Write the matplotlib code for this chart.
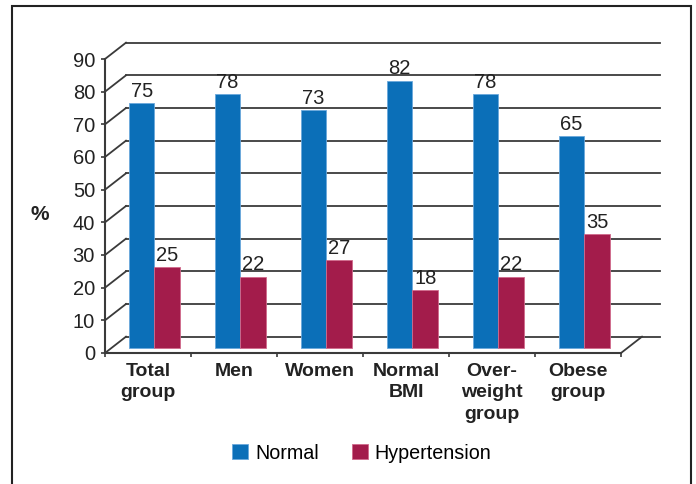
import matplotlib.pyplot as plt
from matplotlib.patches import Rectangle

plt.rcParams['font.family'] = ['Liberation Sans', 'DejaVu Sans']

groups = ['Total\ngroup', 'Men', 'Women', 'Normal\nBMI', 'Over-\nweight\ngroup', 'Obese\ngroup']
normal = [75, 78, 73, 82, 78, 65]
hypertension = [25, 22, 27, 18, 22, 35]
yticks = list(range(0, 100, 10))

blue = '#0b6fb8'
red = '#a31c4b'
grid = '#3a3a3a'

# depth of the back wall and of the bar plane, in data units
back_dx, back_dy = 0.244, 5.0
bar_dx, bar_dy = 0.075, 1.4
bw = 0.297

fig = plt.figure(figsize=(6.96, 4.84), dpi=100)
ax = fig.add_axes([105 / 696, 131 / 484, 516 / 696, 294 / 484])
ax.set_xlim(0, 6)
ax.set_ylim(0, 90)
for s in ax.spines.values():
    s.set_visible(False)

# back wall gridlines and side wall diagonals
for v in yticks:
    ax.plot([back_dx, 6.453], [v + back_dy, v + back_dy], color=grid, lw=1.3,
            clip_on=False, zorder=1)
    ax.plot([0, back_dx], [v, v + back_dy], color=grid, lw=1.3, clip_on=False, zorder=1)
ax.plot([6, 6 + back_dx], [0, back_dy], color=grid, lw=1.3, clip_on=False, zorder=1)

# front axes
ax.plot([0, 0], [0, 90], color=grid, lw=1.5, clip_on=False, zorder=4)
ax.plot([0, 6], [0, 0], color=grid, lw=1.5, clip_on=False, zorder=4)

x = range(len(groups))
xb = [i + 0.5 - bw + bar_dx for i in x]
xr = [i + 0.5 + bar_dx for i in x]
ax.bar(xb, normal, width=bw, bottom=bar_dy, align='edge', color=blue,
       edgecolor='#6aa8dc', lw=0.6, zorder=3, label='Normal')
ax.bar(xr, hypertension, width=bw, bottom=bar_dy, align='edge', color=red,
       edgecolor='#d06a8c', lw=0.6, zorder=3, label='Hypertension')

for i in x:
    ax.annotate(str(normal[i]), (xb[i] + bw / 2, normal[i] + bar_dy), xytext=(0, 1.5),
                textcoords='offset points', ha='center', va='bottom', fontsize=14.5,
                color='#222222', zorder=5)
    ax.annotate(str(hypertension[i]), (xr[i] + bw / 2, hypertension[i] + bar_dy),
                xytext=(0, 1.5), textcoords='offset points', ha='center', va='bottom',
                fontsize=14.5, color='#222222', zorder=5)
    ax.annotate(groups[i], (i + 0.5, 0), xytext=(0, -7), textcoords='offset points',
                ha='center', va='top', fontsize=14, fontweight='bold',
                linespacing=1.35, color='#222222')

ax.set_yticks(yticks)
ax.set_yticklabels([str(v) for v in yticks], fontsize=14.5, color='#222222')
ax.set_xticks(range(7))
ax.set_xticklabels([])
ax.tick_params(axis='both', length=3.2, width=1.2, color=grid, pad=4)

fig.text(40 / 696, 1 - 215 / 484, '%', fontsize=15, fontweight='bold',
         ha='center', va='center', color='#222222')

fig.legend(loc='center', bbox_to_anchor=(0.52, 0.064), ncol=2, frameon=False,
           fontsize=14.2, handlelength=0.8, handleheight=0.8, handletextpad=0.35,
           columnspacing=1.7)

fig.patches.append(Rectangle((12 / 696, -0.05), 679 / 696, 1.05 - 6 / 484,
                             transform=fig.transFigure, fill=False, ec='#222222',
                             lw=1.5))

fig.savefig('out.png', dpi=100)
